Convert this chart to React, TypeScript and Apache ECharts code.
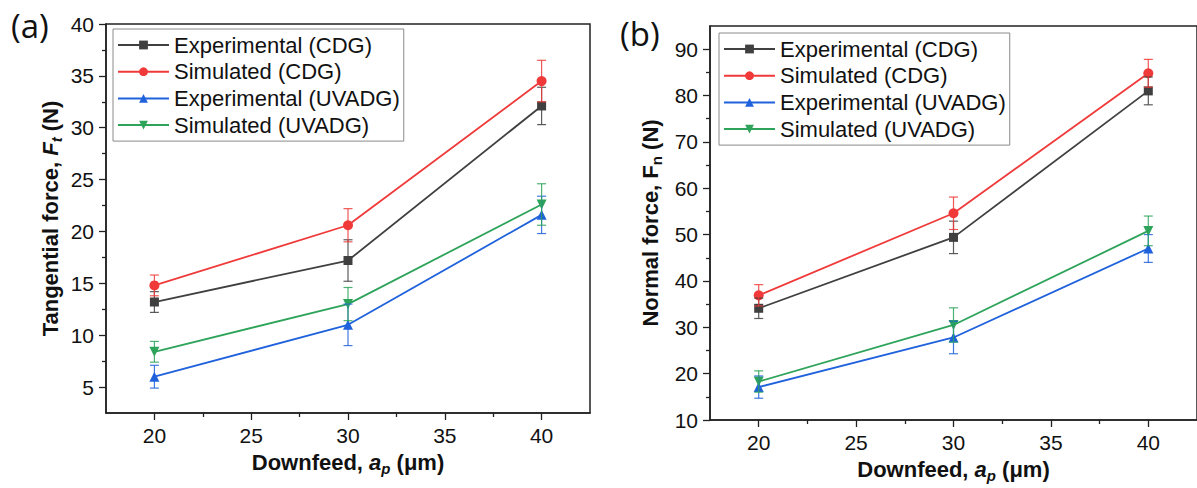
import React, { useEffect, useRef } from "react";
import * as echarts from "echarts";

// ---- data ----
const downfeed = [20, 30, 40];
const seriesNames = [
  "Experimental (CDG)",
  "Simulated (CDG)",
  "Experimental (UVADG)",
  "Simulated (UVADG)",
];
// Tangential force Ft (N)
const ftExpCdg = [13.2, 17.2, 32.1];
const ftExpCdgErr = [1.0, 2.0, 1.8];
const ftSimCdg = [14.8, 20.6, 34.5];
const ftSimCdgErr = [1.0, 1.6, 2.0];
const ftExpUv = [6.0, 11.0, 21.6];
const ftExpUvErr = [1.1, 2.0, 1.8];
const ftSimUv = [8.4, 13.0, 22.6];
const ftSimUvErr = [1.0, 1.6, 2.0];
// Normal force Fn (N)
const fnExpCdg = [34.1, 49.4, 81.0];
const fnExpCdgErr = [2.2, 3.5, 3.0];
const fnSimCdg = [36.9, 54.6, 84.8];
const fnSimCdgErr = [2.3, 3.5, 3.0];
const fnExpUv = [17.1, 27.8, 47.0];
const fnExpUvErr = [2.4, 3.5, 3.0];
const fnSimUv = [18.3, 30.5, 50.8];
const fnSimUvErr = [2.3, 3.7, 3.2];

const xMajor = [20, 25, 30, 35, 40];
const xMinor = [22.5, 27.5, 32.5, 37.5];
const ftMajor = [5, 10, 15, 20, 25, 30, 35, 40];
const ftMinor = [7.5, 12.5, 17.5, 22.5, 27.5, 32.5, 37.5];
const fnMajor = [10, 20, 30, 40, 50, 60, 70, 80, 90];
const fnMinor = [15, 25, 35, 45, 55, 65, 75, 85];

const colors = ["#404040", "#f03a3a", "#1f62dc", "#2ea35a"];
const symbols = ["rect", "circle", "triangle", "path://M0,0 L10,0 L5,9 Z"];
const symbolSizes = [9, 10, 10, 10];

const FONT = "'Liberation Sans', Arial, sans-serif";
const AXIS = "#222";

export default function App() {
  const ref = useRef<HTMLDivElement>(null);

  useEffect(() => {
    if (!ref.current) return;
    const chart = echarts.init(ref.current, undefined, { renderer: "svg" });

    const ftVals = [ftExpCdg, ftSimCdg, ftExpUv, ftSimUv];
    const ftErrs = [ftExpCdgErr, ftSimCdgErr, ftExpUvErr, ftSimUvErr];
    const fnVals = [fnExpCdg, fnSimCdg, fnExpUv, fnSimUv];
    const fnErrs = [fnExpCdgErr, fnSimCdgErr, fnExpUvErr, fnSimUvErr];

    const rich = {
      b: { fontSize: 22, fontWeight: "bold", fontFamily: FONT, color: "#111", lineHeight: 27 },
      bi: { fontSize: 22, fontWeight: "bold", fontStyle: "italic", fontFamily: FONT, color: "#111", lineHeight: 27 },
      sub: { fontSize: 15, fontWeight: "bold", fontStyle: "italic", fontFamily: FONT, color: "#111", lineHeight: 15, verticalAlign: "bottom" },
      subn: { fontSize: 15, fontWeight: "bold", fontFamily: FONT, color: "#111", lineHeight: 15, verticalAlign: "bottom" },
    };

    const mainX = (gridIndex: number) => ({
      type: "value",
      gridIndex,
      min: 17.5,
      max: 42.5,
      position: "bottom",
      axisLine: { show: true, lineStyle: { color: AXIS, width: 1.5 } },
      axisTick: { show: true, length: 7, lineStyle: { color: AXIS, width: 1.3 }, customValues: xMajor },
      axisLabel: { fontSize: 21, color: "#111", fontFamily: FONT, margin: 12, customValues: xMajor },
      splitLine: { show: false },
      name: "{b|Downfeed, }{bi|a}{sub|p}{b| (μm)}",
      nameLocation: "middle",
      nameGap: 36,
      nameTextStyle: { rich },
    });
    const minorX = (gridIndex: number) => ({
      type: "value",
      gridIndex,
      min: 17.5,
      max: 42.5,
      position: "bottom",
      axisLine: { show: false },
      axisTick: { show: true, length: 4, lineStyle: { color: AXIS, width: 1.3 }, customValues: xMinor },
      axisLabel: { show: false },
      splitLine: { show: false },
    });
    const mainY = (gridIndex: number, min: number, max: number, major: number[], name: string, gap: number) => ({
      type: "value",
      gridIndex,
      min,
      max,
      position: "left",
      axisLine: { show: true, lineStyle: { color: AXIS, width: 1.5 } },
      axisTick: { show: true, length: 7, lineStyle: { color: AXIS, width: 1.3 }, customValues: major },
      axisLabel: { fontSize: 21, color: "#111", fontFamily: FONT, margin: 12, customValues: major },
      splitLine: { show: false },
      name,
      nameLocation: "middle",
      nameGap: gap,
      nameTextStyle: { rich },
    });
    const minorY = (gridIndex: number, min: number, max: number, minor: number[]) => ({
      type: "value",
      gridIndex,
      min,
      max,
      position: "left",
      axisLine: { show: false },
      axisTick: { show: true, length: 4, lineStyle: { color: AXIS, width: 1.3 }, customValues: minor },
      axisLabel: { show: false },
      splitLine: { show: false },
    });

    const series: any[] = [];
    const addPanel = (vals: number[][], errs: number[][], xIdx: number, yIdx: number) => {
      vals.forEach((v, i) => {
        series.push({
          type: "line",
          name: seriesNames[i],
          xAxisIndex: xIdx,
          yAxisIndex: yIdx,
          data: downfeed.map((x, j) => [x, v[j]]),
          symbol: symbols[i],
          symbolSize: symbolSizes[i],
          showSymbol: true,
          itemStyle: { color: colors[i] },
          lineStyle: { color: colors[i], width: 1.8 },
          z: 2,
        });
      });
      vals.forEach((v, i) => {
        series.push({
          type: "custom",
          xAxisIndex: xIdx,
          yAxisIndex: yIdx,
          data: downfeed.map((x, j) => [x, v[j], errs[i][j]]),
          encode: { x: 0, y: 1 },
          z: 3,
          renderItem: (params: any, api: any) => {
            const x = api.value(0);
            const y = api.value(1);
            const e = api.value(2);
            const top = api.coord([x, y + e]);
            const bot = api.coord([x, y - e]);
            const w = 4.5;
            const style = { stroke: colors[i], lineWidth: 1.2, opacity: 0.85 };
            return {
              type: "group",
              children: [
                { type: "line", shape: { x1: top[0], y1: top[1], x2: bot[0], y2: bot[1] }, style },
                { type: "line", shape: { x1: top[0] - w, y1: top[1], x2: top[0] + w, y2: top[1] }, style },
                { type: "line", shape: { x1: bot[0] - w, y1: bot[1], x2: bot[0] + w, y2: bot[1] }, style },
              ],
            };
          },
        });
      });
    };
    addPanel(ftVals, ftErrs, 0, 0);
    addPanel(fnVals, fnErrs, 1, 2);

    const legendBase = {
      orient: "vertical",
      data: seriesNames,
      itemWidth: 51,
      itemHeight: 11,
      itemGap: 4.7,
      padding: [5, 4, 5, 4],
      borderColor: "#8a8a8a",
      borderWidth: 1,
      backgroundColor: "#fff",
      selectedMode: false,
      textStyle: { fontSize: 22, lineHeight: 22, color: "#111", fontFamily: FONT },
    };

    chart.setOption({
      animation: false,
      backgroundColor: "#fff",
      grid: [
        { left: 106, top: 24, width: 484, height: 389, show: true, borderColor: AXIS, borderWidth: 1.5, backgroundColor: "transparent" },
        { left: 710, top: 26, width: 489, height: 394, show: true, borderColor: AXIS, borderWidth: 1.5, backgroundColor: "transparent" },
      ],
      xAxis: [mainX(0), mainX(1), minorX(0), minorX(1)],
      yAxis: [
        mainY(0, 2.5, 40, ftMajor, "{b|Tangential force, }{bi|F}{sub|t}{b| (N)}", 42),
        minorY(0, 2.5, 40, ftMinor),
        mainY(1, 10, 95, fnMajor, "{b|Normal force, }{b|F}{subn|n}{b| (N)}", 46),
        minorY(1, 10, 95, fnMinor),
      ],
      legend: [
        { ...legendBase, left: 113, top: 29 },
        { ...legendBase, left: 719, top: 33 },
      ],
      graphic: [
        { type: "text", left: 11, top: 9, style: { text: "(a)", fontSize: 33, fontFamily: "'Open Sans', sans-serif", fill: "#111" } },
        { type: "text", left: 620, top: 17, style: { text: "(b)", fontSize: 33, fontFamily: "'Open Sans', sans-serif", fill: "#111" } },
      ],
      series,
    });

    return () => chart.dispose();
  }, []);

  return (
    <div
      ref={ref}
      style={{ position: "absolute", left: 0, top: 0, width: 1197, height: 488, background: "#fff" }}
    />
  );
}
